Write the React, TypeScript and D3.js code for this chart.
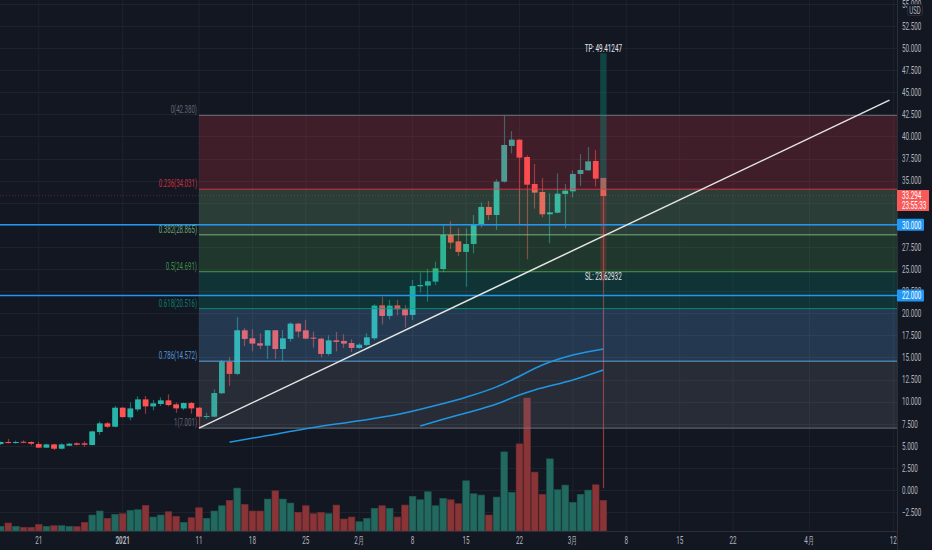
import React from "react";
import * as d3 from "d3";

const START_DATE = "2020-12-16";
const opens = [5.2,5.43,5.35,5.46,5.43,5.2,4.79,5.16,4.67,5.01,5.28,5.28,5.09,6.56,7.54,7.16,9.31,8.22,9.12,10.25,9.46,9.73,10.14,9.69,9.23,9.84,9.31,8.29,8.29,10.94,14.48,13.13,18.07,17.16,16.6,16.33,18.07,15.95,17.09,18.82,18.07,17.24,17.12,15.39,16.93,16.86,16.63,16.07,16.41,17.16,20.89,19.69,20.89,20.44,19.8,23.04,23.12,23.57,25.0,28.85,28.13,26.93,27.83,30.06,32.02,31.11,34.88,38.92,39.63,37.67,34.62,33.71,31.19,31.37,33.49,33.79,35.75,36.16,37.22,35.3];
const closes = [5.43,5.31,5.43,5.35,5.24,4.79,5.16,4.67,5.16,5.24,5.12,5.12,6.63,7.54,7.16,9.31,8.25,9.23,10.25,9.46,9.8,10.14,9.61,9.23,9.84,9.23,8.29,8.37,10.97,14.52,13.13,18.07,17.09,16.56,16.33,18.07,15.95,17.16,18.82,17.92,17.12,17.12,15.39,16.93,16.75,16.56,16.07,16.44,17.27,20.86,19.69,20.86,20.44,19.76,23.08,23.19,23.61,25.08,28.85,27.98,26.93,27.83,29.98,32.02,31.11,34.88,39.03,39.63,37.6,34.54,33.64,31.19,31.41,33.52,33.86,35.75,36.2,37.18,35.22,33.26];
const highs = [5.5,5.77,5.58,5.61,5.5,5.46,5.24,5.24,5.28,5.31,5.39,5.5,6.71,7.76,7.69,9.5,9.39,9.91,10.59,10.63,10.18,10.48,10.82,9.88,9.91,9.95,9.39,8.74,11.38,14.71,15.01,19.54,18.33,18.18,17.73,18.1,18.1,18.1,18.97,18.9,19.24,17.92,17.24,17.5,17.88,17.61,17.05,16.6,17.73,21.01,21.87,21.5,21.5,20.93,23.76,24.59,25.0,25.83,29.98,30.39,29.6,29.6,31.11,32.54,32.69,35.15,42.35,40.61,39.67,37.86,36.88,35.3,33.56,35.82,34.62,36.13,38.0,38.8,38.46,35.3];
const lows = [5.09,5.28,5.24,5.28,5.05,4.75,4.75,4.52,4.6,4.97,5.05,4.9,5.05,6.26,7.01,7.09,8.18,7.88,8.9,8.63,9.01,9.5,9.46,8.74,9.05,8.63,7.0,8.03,8.22,10.86,11.77,13.0,16.29,15.69,15.95,14.82,14.82,14.6,16.78,17.24,17.05,16.11,15.01,15.2,15.69,16.07,15.61,15.99,16.29,16.97,18.74,19.31,19.76,18.37,19.23,22.33,21.31,23.19,24.63,27.26,26.47,23.0,26.77,29.68,30.55,29.41,34.77,38.09,30.1,26.1,31.83,30.85,27.9,31.3,29.6,33.1,34.39,36.13,34.32,0.2];
const volumes = [4.7,8,4.7,3.7,3.7,6.7,4.7,5.3,5.3,4.7,4.3,8.7,16,20,12.7,16.7,17.3,20.7,21.3,25.7,14,16,19.3,14.7,8.7,13.3,23.3,12.7,20,25.3,30.7,43,26.7,20,20,32,40.3,32,28,18.7,25.3,17.3,18.7,17.3,26,12,14,9.3,12.7,22.7,25.3,22.7,14,26,34.7,31.3,39.3,25.3,32.7,31.3,27.3,50.3,37.3,36,16,34,79.3,38.7,87.3,133.3,59,36.7,72.3,41.3,46,28.7,36.7,41,46.3,30.7];

const maFastDates = ["2021-01-15","2021-01-20","2021-01-26","2021-02-01","2021-02-06","2021-02-11","2021-02-15","2021-02-19","2021-02-21","2021-02-25","2021-03-01","2021-03-05"];
const maFastValues = [5.4,6.17,7.07,7.84,8.54,9.56,10.5,11.67,12.44,14.14,15.27,15.95];
const maSlowDates = ["2021-02-09","2021-02-12","2021-02-15","2021-02-19","2021-02-22","2021-02-24","2021-03-01","2021-03-05"];
const maSlowValues = [7.24,8.0,8.71,9.73,10.75,11.31,12.44,13.57];

const fibRatios = ["0","0.236","0.382","0.5","0.618","0.786","1"];
const fibPrices = [42.38,34.031,28.865,24.691,20.516,14.572,7.001];
const fibColors = ["#787b86","#f23645","#81c784","#4caf50","#089981","#64b5f6","#787b86"];

const priceTicks = [55,52.5,50,47.5,45,42.5,40,37.5,35,32.5,30,27.5,25,22.5,20,17.5,15,12.5,10,7.5,5,2.5,0,-2.5];
const hiddenPriceLabels = [32.5, 30];
const timeTickDates = ["2020-12-21","2021-01-01","2021-01-11","2021-01-18","2021-01-25","2021-02-01","2021-02-08","2021-02-15","2021-02-22","2021-03-01","2021-03-08","2021-03-15","2021-03-22","2021-04-01","2021-04-12"];
const timeTickLabels = ["21","2021","11","18","25","2月","8","15","22","3月","8","15","22","4月","12"];
const hLinePrices = [30, 22];
const hLineLabels = ["30.000", "22.000"];
const lastDate = "2021-03-05";
const lastPrice = 33.29;
const lastLabel = "33.294";
const countdown = "23:55:33";
const tpPrice = 49.41247;
const slPrice = 23.62932;
const entryPrice = 33.95;
const trendDates = ["2021-01-11", "2021-04-11T12:00:00Z"];
const trendPrices = [7.001, 44.1];

const W = 932, H = 550, PR = 897, PB = 531;
const BG = "#131722", GRID = "#1e222d", UP = "#26b5a8", DOWN = "#ff5252";
const FONT = "Roboto, sans-serif";

const dt = (s: string) => new Date(s.length === 10 ? s + "T00:00:00Z" : s);
const x = d3.scaleUtc().domain([dt("2021-01-11"), dt("2021-04-12")]).range([199, 893.3]);
const y = d3.scaleLinear().domain([0, 50]).range([490, 48]);
const vy = d3.scaleLinear().domain([0, 133.3]).range([PB, 398]);
const dates = d3.utcDay.range(dt(START_DATE), d3.utcDay.offset(dt(START_DATE), opens.length));

function T({ px, py, sx = 0.6, size = 10.5, anchor = "start", fill = "#b2b5be", op = 1, bold = false, children }: any) {
  return (
    <text transform={`translate(${px},${py}) scale(${sx},1)`} fontFamily={FONT} fontSize={size} textAnchor={anchor}
      fill={fill} opacity={op} fontWeight={bold ? 700 : 400}>{children}</text>
  );
}

export default function App() {
  const line = d3.line<[Date, number]>().x(d => x(d[0])).y(d => y(d[1])).curve(d3.curveMonotoneX);
  const maFast = line(maFastDates.map((s, i) => [dt(s), maFastValues[i]] as [Date, number])) || "";
  const maSlow = line(maSlowDates.map((s, i) => [dt(s), maSlowValues[i]] as [Date, number])) || "";
  const lx = x(dt(lastDate));
  return (
    <svg width={W} height={H} viewBox={`0 0 ${W} ${H}`} style={{ position: "absolute", left: 0, top: 0, display: "block" }}>
      <defs><clipPath id="pane"><rect x={0} y={0} width={PR} height={PB} /></clipPath></defs>
      <rect width={W} height={H} fill={BG} />
      <g clipPath="url(#pane)">
        {timeTickDates.map(s => <line key={s} x1={x(dt(s))} x2={x(dt(s))} y1={0} y2={PB} stroke={GRID} />)}
        {priceTicks.map(p => <line key={p} x1={0} x2={PR} y1={Math.round(y(p)) + 0.5} y2={Math.round(y(p)) + 0.5} stroke={GRID} />)}
        {dates.map((d, i) => {
          const c = closes[i] >= opens[i] ? "#22695f" : "#893436";
          return <rect key={i} x={x(d) - 3.3} width={6.6} y={vy(volumes[i])} height={PB - vy(volumes[i])}
            fill={c} stroke={closes[i] >= opens[i] ? "#1d5a55" : "#752e30"} strokeWidth={0.6} />;
        })}
        {dates.map((d, i) => {
          const up = closes[i] >= opens[i];
          const c = up ? UP : DOWN;
          const t = y(Math.max(opens[i], closes[i])), b = y(Math.min(opens[i], closes[i]));
          const wx = Math.floor(x(d)) + 0.5;
          return (
            <g key={i}>
              <line x1={wx} x2={wx} y1={y(highs[i])} y2={y(lows[i])} stroke={c} strokeOpacity={0.55} strokeWidth={1.2} />
              <rect x={x(d) - 2.9} width={5.8} y={t} height={Math.max(b - t, 1)} fill={c} />
            </g>
          );
        })}
        {fibPrices.slice(1).map((p, i) => (
          <rect key={p} x={x(dt("2021-01-11"))} width={PR - x(dt("2021-01-11"))} y={y(fibPrices[i])} height={y(p) - y(fibPrices[i])}
            fill={fibColors[i + 1]} fillOpacity={i === 0 ? 0.2 : 0.22} />
        ))}
        {fibPrices.map((p, i) => (
          <line key={p} x1={x(dt("2021-01-11"))} x2={PR} y1={y(p)} y2={y(p)} stroke={fibColors[i]} strokeWidth={1} strokeOpacity={0.85} />
        ))}
        <line x1={0} x2={PR} y1={y(lastPrice)} y2={y(lastPrice)} stroke="#ff5252" strokeOpacity={0.3} strokeDasharray="1 2" />
        <rect x={lx - 3.2} width={6.4} y={y(tpPrice)} height={y(entryPrice) - y(tpPrice)} fill="#089981" fillOpacity={0.35} />
        <rect x={lx - 3.2} width={6.4} y={y(entryPrice)} height={y(slPrice) - y(entryPrice)} fill="#f23645" fillOpacity={0.2} />
        <path d={maFast} fill="none" stroke="#2196e0" strokeWidth={1.5} />
        <path d={maSlow} fill="none" stroke="#2196e0" strokeWidth={1.5} />
        {hLinePrices.map(p => <line key={p} x1={0} x2={PR} y1={y(p)} y2={y(p)} stroke="#2196f3" strokeWidth={1.5} />)}
        <line x1={x(dt(trendDates[0]))} y1={y(trendPrices[0])} x2={x(dt(trendDates[1]))} y2={y(trendPrices[1])} stroke="#e4e4e4" strokeWidth={1.5} />
      </g>

      {fibPrices.map((p, i) => (
        <T key={p} px={197} py={y(p) - 2} anchor="end" sx={0.58} size={10.5} fill={fibColors[i]} op={0.8}>
          {`${fibRatios[i]}(${p.toFixed(3)})`}
        </T>
      ))}
      <T px={lx} py={52} anchor="middle" sx={0.6} fill="#e4e6ea">{`TP: ${tpPrice}`}</T>
      <T px={lx} py={280} anchor="middle" sx={0.6} fill="#e4e6ea">{`SL: ${slPrice}`}</T>

      <line x1={PR + 0.5} x2={PR + 0.5} y1={0} y2={H} stroke="#2a2e39" />
      <line x1={0} x2={PR} y1={PB + 0.5} y2={PB + 0.5} stroke="#2a2e39" />
      {priceTicks.filter(p => !hiddenPriceLabels.includes(p)).map(p => (
        <T key={p} px={902} py={y(p) + 3.8} fill="#b2b5be">{p < 0 ? "\u2212" + (-p).toFixed(3) : p.toFixed(3)}</T>
      ))}
      <rect x={907.5} y={4.5} width={15} height={11} rx={2} fill={BG} stroke="#2a2e39" />
      <T px={915} py={13.5} anchor="middle" sx={0.6} size={10}>USD</T>
      {timeTickDates.map((s, i) => (
        <T key={s} px={x(dt(s))} py={544} anchor="middle" bold={timeTickLabels[i] === "2021"}>{timeTickLabels[i]}</T>
      ))}
      <rect x={897} y={190} width={32} height={21} fill="#f85a5a" />
      <T px={902} py={199} fill="#fff">{lastLabel}</T>
      <T px={902} py={208.5} fill="#fff">{countdown}</T>
      {hLinePrices.map((p, i) => (
        <g key={p}>
          <rect x={897} y={y(p) - 6} width={27} height={12} rx={1} fill="#2196f3" />
          <T px={902} py={y(p) + 3.8} fill="#fff">{hLineLabels[i]}</T>
        </g>
      ))}
    </svg>
  );
}
